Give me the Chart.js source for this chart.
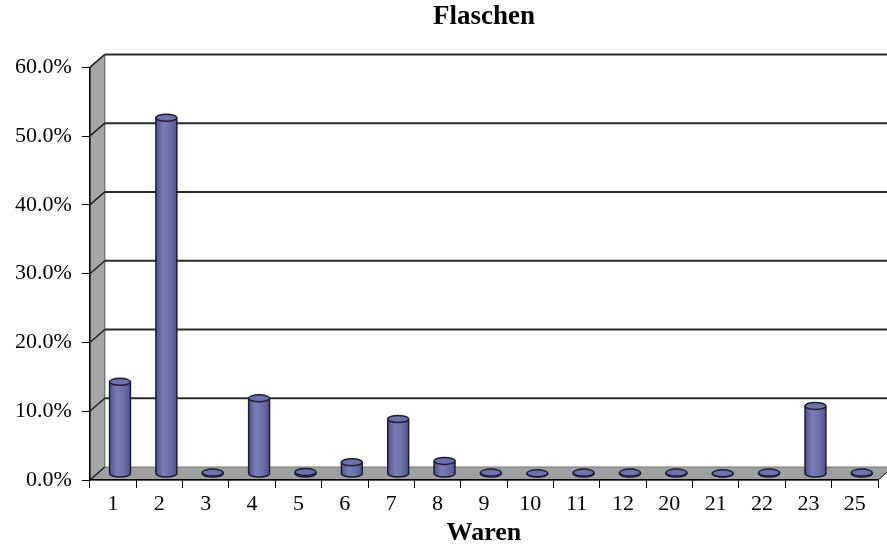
<!DOCTYPE html>
<html>
<head>
<meta charset="utf-8">
<script src="https://cdn.jsdelivr.net/npm/chart.js@4/dist/chart.umd.min.js"></script>
<style>
  html, body { margin: 0; padding: 0; background: #fff; }
  #wrap { width: 887px; height: 546px; }
</style>
</head>
<body>
<div id="wrap"><canvas id="flaschen"></canvas></div>
<script>
// Waren categories and their share (%)
const categories = ['1','2','3','4','5','6','7','8','9','10','11','12','20','21','22','23','25'];
const shares = [13.4, 51.8, 0.2, 11.0, 0.3, 1.7, 8.0, 1.9, 0.2, 0.1, 0.2, 0.2, 0.2, 0.1, 0.2, 9.9, 0.2];
const yMin = 0, yMax = 60, yStep = 10;

const chartTitle = 'Flaschen';
const xTitle = 'Waren';

// 3d depth of the box
const depthX = 15, depthY = -13;
const barShiftX = 7, barShiftY = -6;

var serif = "'Liberation Serif', 'Times New Roman', serif";

// grey walls + back grid lines
var box3d = {
  id: 'box3d',
  beforeDraw: function(chart) {
    var ctx = chart.ctx;
    var a = chart.chartArea;
    var y = chart.scales.y;
    ctx.save();
    ctx.fillStyle = '#fff';
    ctx.fillRect(0, 0, chart.width, chart.height);

    // left wall
    ctx.beginPath();
    ctx.moveTo(a.left, a.top);
    ctx.lineTo(a.left + depthX, a.top + depthY);
    ctx.lineTo(a.left + depthX, a.bottom + depthY);
    ctx.lineTo(a.left, a.bottom);
    ctx.closePath();
    ctx.fillStyle = '#a6a6a6';
    ctx.fill();
    ctx.strokeStyle = '#555';
    ctx.lineWidth = 1;
    ctx.stroke();

    // floor
    ctx.beginPath();
    ctx.moveTo(a.left, a.bottom);
    ctx.lineTo(a.right, a.bottom);
    ctx.lineTo(a.right + depthX, a.bottom + depthY);
    ctx.lineTo(a.left + depthX, a.bottom + depthY);
    ctx.closePath();
    ctx.fillStyle = '#a0a0a0';
    ctx.fill();
    ctx.strokeStyle = '#777';
    ctx.stroke();
    ctx.beginPath();
    ctx.moveTo(a.right, a.bottom);
    ctx.lineTo(a.right + depthX, a.bottom + depthY);
    ctx.strokeStyle = '#222';
    ctx.stroke();

    // back wall grid + diagonal ticks
    y.ticks.forEach(function(t) {
      var py = y.getPixelForValue(t.value);
      ctx.beginPath();
      ctx.moveTo(a.left, py);
      ctx.lineTo(a.left + depthX, py + depthY);
      ctx.strokeStyle = '#222';
      ctx.lineWidth = 1.5;
      ctx.stroke();
      if (t.value > yMin) {
        ctx.beginPath();
        ctx.moveTo(a.left + depthX, py + depthY);
        ctx.lineTo(chart.width, py + depthY);
        ctx.strokeStyle = '#2b2b2b';
        ctx.lineWidth = 2;
        ctx.stroke();
      }
    });
    ctx.restore();
  },
  beforeDatasetsDraw: function(chart) {
    chart.ctx.save();
    chart.ctx.translate(barShiftX, barShiftY);
  },
  afterDatasetsDraw: function(chart) {
    var ctx = chart.ctx;
    var meta = chart.getDatasetMeta(0);
    meta.data.forEach(function(bar) {
      var x = bar.x, top = bar.y, base = bar.base;
      var rx = bar.width / 2, ry = 3.5;
      var g = ctx.createLinearGradient(x - rx, 0, x + rx, 0);
      g.addColorStop(0, '#50538b');
      g.addColorStop(0.35, '#7a7db6');
      g.addColorStop(0.7, '#6a6da7');
      g.addColorStop(1, '#50538b');
      ctx.fillStyle = g;
      ctx.strokeStyle = '#1c1c33';
      ctx.lineWidth = 1.5;
      // body
      ctx.beginPath();
      ctx.moveTo(x - rx, top);
      ctx.lineTo(x - rx, base);
      ctx.ellipse(x, base, rx, ry, 0, Math.PI, 0, true);
      ctx.lineTo(x + rx, top);
      ctx.closePath();
      ctx.fill();
      ctx.beginPath();
      ctx.moveTo(x - rx, top);
      ctx.lineTo(x - rx, base);
      ctx.ellipse(x, base, rx, ry, 0, Math.PI, 0, true);
      ctx.lineTo(x + rx, top);
      ctx.stroke();
      // top cap
      ctx.beginPath();
      ctx.ellipse(x, top, rx, ry, 0, 0, Math.PI * 2);
      ctx.fillStyle = '#6e71ab';
      ctx.fill();
      ctx.stroke();
    });
    ctx.restore();
  }
};

var ctx = document.getElementById('flaschen').getContext('2d');
var chart = new Chart(ctx, {
  type: 'bar',
  data: {
    labels: categories,
    datasets: [{
      label: chartTitle,
      data: shares,
      backgroundColor: '#6a6da7',
      borderWidth: 0,
      barPercentage: 0.45,
      categoryPercentage: 1
    }]
  },
  plugins: [box3d],
  options: {
    responsive: true,
    maintainAspectRatio: false,
    animation: false,
    layout: { padding: { left: 5, right: 9, top: 0, bottom: 0 } },
    scales: {
      x: {
        position: 'bottom',
        offset: true,
        grid: { display: true, drawOnChartArea: false, offset: true, color: '#000', tickLength: 8 },
        border: { display: true, color: '#000', width: 1.5 },
        ticks: { color: '#000', padding: 5, font: { family: serif, size: 22, lineHeight: 1 } },
        title: {
          display: true, text: xTitle, color: '#000',
          font: { family: serif, size: 26, weight: 'bold', lineHeight: 1 },
          padding: { top: 0, bottom: 0 }
        }
      },
      xTop: {
        type: 'category',
        position: 'top',
        grid: { display: false, drawTicks: false },
        border: { display: false },
        ticks: { display: false },
        title: {
          display: true, text: chartTitle, color: '#000',
          font: { family: serif, size: 27, weight: 'bold' },
          padding: { top: 1, bottom: 34 }
        }
      },
      y: {
        min: yMin,
        max: yMax,
        ticks: {
          stepSize: yStep,
          color: '#000',
          padding: 10,
          font: { family: serif, size: 22 },
          callback: function(v) { return v.toFixed(1) + '%'; }
        },
        grid: { display: true, drawOnChartArea: false, color: '#000', tickLength: 8 },
        border: { display: true, color: '#000', width: 1.5 }
      }
    },
    plugins: {
      legend: { display: false },
      tooltip: { enabled: false },
      title: { display: false }
    }
  }
});
</script>
</body>
</html>
